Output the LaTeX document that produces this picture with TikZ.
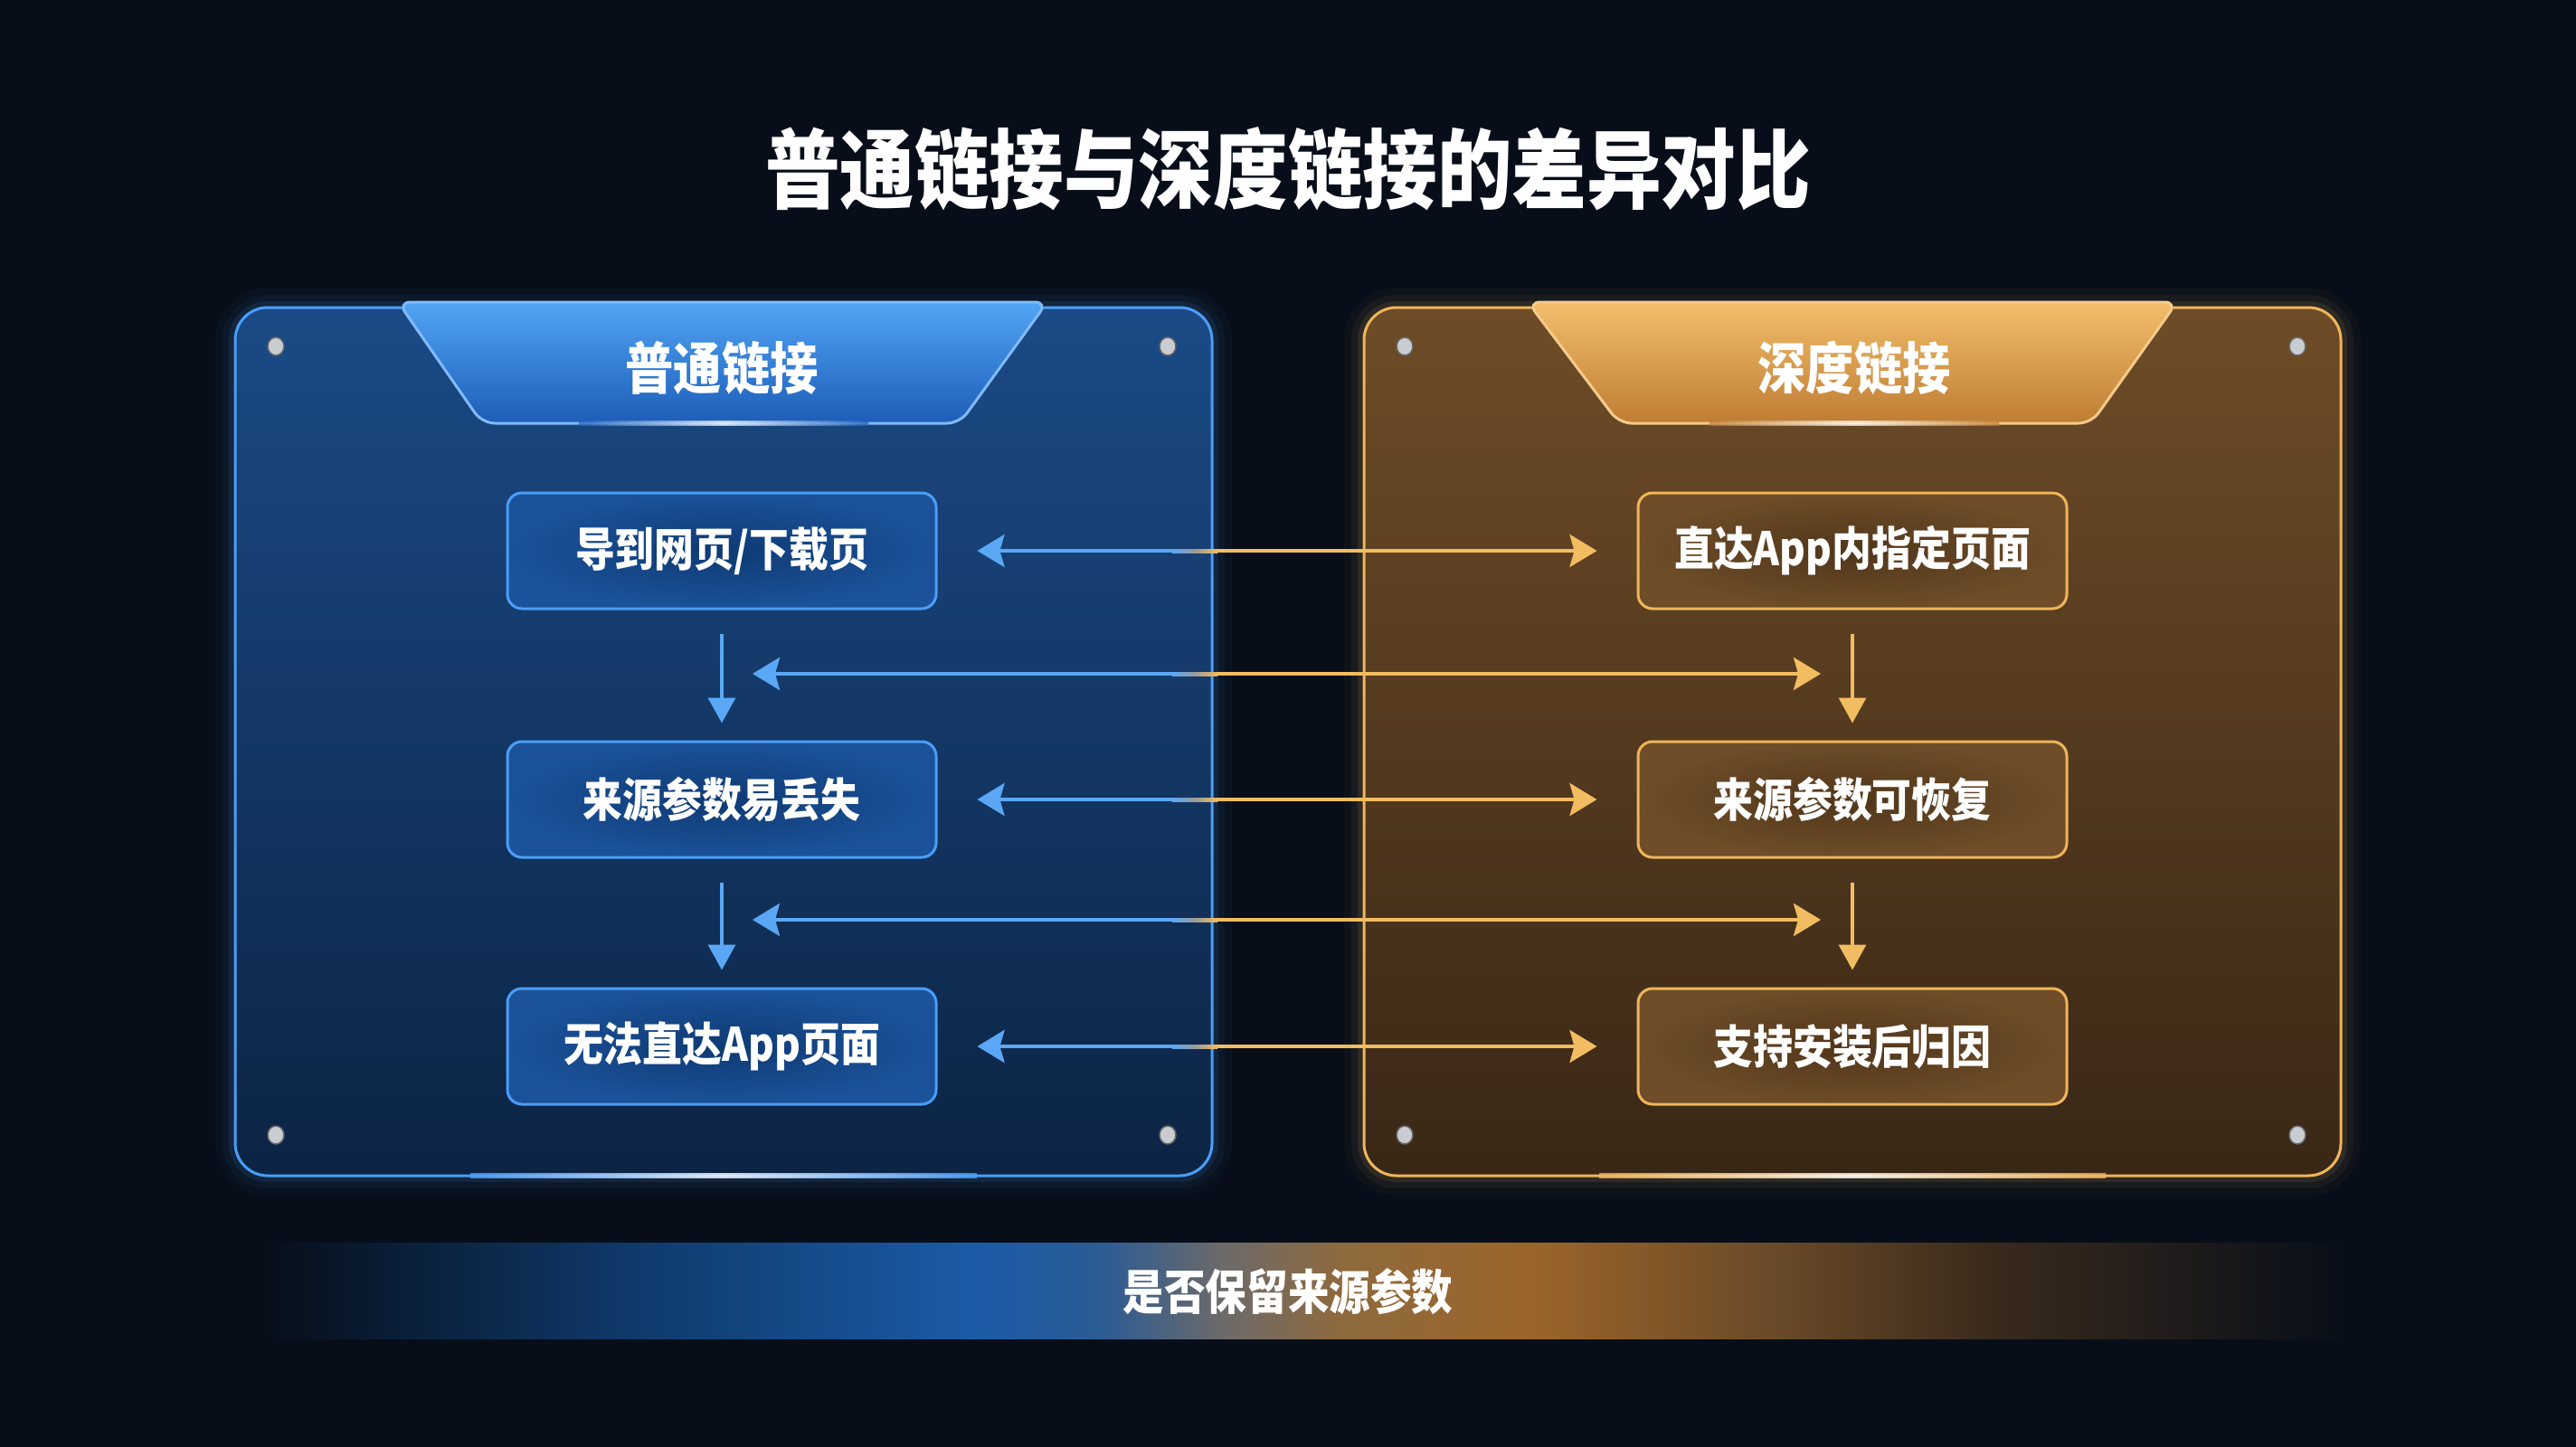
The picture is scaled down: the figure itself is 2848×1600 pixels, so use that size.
\documentclass[tikz,border=0pt]{standalone}
\usepackage{fontspec}
\setmainfont{Noto Sans CJK SC}[FakeStretch=0.86]
\usetikzlibrary{arrows.meta,calc}
\definecolor{bg}{HTML}{070E19}
\definecolor{pblueT}{HTML}{1B4A86}
\definecolor{pblueB}{HTML}{0C2444}
\definecolor{bline}{HTML}{4A9EF8}
\definecolor{porT}{HTML}{6E4C27}
\definecolor{porB}{HTML}{392716}
\definecolor{oline}{HTML}{F0B55A}
\definecolor{tabBT}{HTML}{52A4F5}
\definecolor{tabBB}{HTML}{1C5DB8}
\definecolor{tabOT}{HTML}{F3BD6C}
\definecolor{tabOB}{HTML}{BF7D33}
\definecolor{arrB}{HTML}{5AA8F5}
\definecolor{arrO}{HTML}{F2BC60}
\definecolor{arrG}{HTML}{9A9A9A}
\definecolor{boxBfill}{HTML}{0F3A74}
\definecolor{boxBedge}{HTML}{1B5299}
\definecolor{boxOfill}{HTML}{50361A}
\definecolor{boxOedge}{HTML}{6E4D28}
\definecolor{screwc}{HTML}{C9CCD0}
\definecolor{band1}{HTML}{0F3A6C}
\definecolor{band2}{HTML}{1B5BA6}
\definecolor{band3}{HTML}{2C5C94}
\definecolor{band4}{HTML}{6C6A6A}
\definecolor{band5}{HTML}{8E6A3E}
\definecolor{band6}{HTML}{9C6529}
\definecolor{band7}{HTML}{6A4A28}
\definecolor{band8}{HTML}{3A2A1C}
\begin{document}
\begin{tikzpicture}[x=1pt,y=-1pt,
  htip/.tip={Stealth[length=30pt,width=36pt,inset=5pt]},
  vtip/.tip={Triangle[length=28pt,width=30pt]},
  panelB/.style={draw=bline, line width=3pt, rounded corners=36pt, minimum width=1080pt, minimum height=960pt, top color=pblueT, bottom color=pblueB, inner sep=0pt},
  panelO/.style={draw=oline, line width=3pt, rounded corners=36pt, minimum width=1080pt, minimum height=960pt, top color=porT, bottom color=porB, inner sep=0pt},
  boxB/.style={draw=bline, line width=3pt, rounded corners=16pt, minimum width=474pt, minimum height=128pt, inner color=boxBfill, outer color=boxBedge, text=white, font=\fontsize{51}{51}\selectfont\bfseries},
  boxO/.style={draw=oline, line width=3pt, rounded corners=16pt, minimum width=474pt, minimum height=128pt, inner color=boxOfill, outer color=boxOedge, text=white, font=\fontsize{51}{51}\selectfont\bfseries},
  tabtext/.style={text=white, font=\fontsize{62}{62}\selectfont\bfseries},
  titletext/.style={text=white, font=\fontsize{96}{96}\selectfont\bfseries},
  bandtext/.style={text=white, font=\fontsize{53}{53}\selectfont\bfseries},
  lineB/.style={draw=arrB, line width=4pt},
  lineO/.style={draw=arrO, line width=4pt},
  vlineB/.style={draw=arrB, line width=3.5pt},
  vlineO/.style={draw=arrO, line width=3.5pt},
  screw/.style={fill=screwc, draw=black!60, line width=1.5pt}
]
\useasboundingbox (0,0) rectangle (2848,1600);
\fill[bg] (0,0) rectangle (2848,1600);

% glows behind panels
\foreach \w/\o in {44/0.03, 28/0.05, 14/0.10} {
  \draw[bline, line width=\w pt, opacity=\o, rounded corners=36pt] (260,340) rectangle (1340,1300);
  \draw[oline, line width=\w pt, opacity=\o, rounded corners=36pt] (1508,340) rectangle (2588,1300);
}

% panels
\node[panelB] (lp) at (800,820) {};
\node[panelO] (rp) at (2048,820) {};

% bottom edge highlights
\shade[left color=bline, right color=bline, middle color=white, opacity=0.8] (520,1297) rectangle (1080,1302);
\shade[left color=oline, right color=oline, middle color=white, opacity=0.8] (1768,1297) rectangle (2328,1302);

% tabs
\shadedraw[top color=tabBT, bottom color=tabBB, draw=bline!70!white, line width=3pt, rounded corners=14pt]
  (440,334) -- (1158,334) -- (1061,468) -- (533,468) -- cycle;
\shadedraw[top color=tabOT, bottom color=tabOB, draw=oline!70!white, line width=3pt, rounded corners=14pt]
  (1689,334) -- (2407,334) -- (2312,468) -- (1790,468) -- cycle;
\shade[left color=tabBB, right color=tabBB, middle color=white, opacity=0.7] (640,465) rectangle (960,470);
\shade[left color=tabOB, right color=tabOB, middle color=white, opacity=0.7] (1890,465) rectangle (2210,470);
\node[tabtext] (lt) at (798,407) {普通链接};
\node[tabtext] (rt) at (2050,407) {深度链接};

% title
\node[titletext] (title) at (1424,187) {普通链接与深度链接的差异对比};

% screws
\foreach \x/\y in {305/383, 1291/383, 305/1255, 1291/1255, 1553/383, 2540/383, 1553/1255, 2540/1255}
  \filldraw[screw] (\x,\y) ellipse (9pt and 10pt);

% boxes
\node[boxB] (lb1) at (798,609) {导到网页/下载页};
\node[boxB] (lb2) at (798,884) {来源参数易丢失};
\node[boxB] (lb3) at (798,1157) {无法直达App页面};
\node[boxO] (rb1) at (2048,609) {直达App内指定页面};
\node[boxO] (rb2) at (2048,884) {来源参数可恢复};
\node[boxO] (rb3) at (2048,1157) {支持安装后归因};

% vertical arrows
\draw[vlineB, -vtip, shorten <=26pt, shorten >=19pt] (lb1.south) -- (lb2.north);
\draw[vlineB, -vtip, shorten <=26pt, shorten >=19pt] (lb2.south) -- (lb3.north);
\draw[vlineO, -vtip, shorten <=26pt, shorten >=19pt] (rb1.south) -- (rb2.north);
\draw[vlineO, -vtip, shorten <=26pt, shorten >=19pt] (rb2.south) -- (rb3.north);

% split points of the two-coloured connectors
\coordinate (g1a) at (1296,609);  \coordinate (g1b) at (1346,609);
\coordinate (g2a) at (1296,884);  \coordinate (g2b) at (1346,884);
\coordinate (g3a) at (1296,1157); \coordinate (g3b) at (1346,1157);
\coordinate (m1a) at (1296,745);  \coordinate (m1b) at (1346,745);
\coordinate (m2a) at (1296,1017); \coordinate (m2b) at (1346,1017);
\coordinate (m1L) at (832,745);   \coordinate (m1R) at (2013,745);
\coordinate (m2L) at (832,1017);  \coordinate (m2R) at (2013,1017);

% row connectors
\foreach \i in {1,2,3} {
  \draw[lineB, htip-] ([xshift=44pt]lb\i.east) -- (g\i a);
  \shade[left color=arrB, right color=arrO, middle color=arrG] ($(g\i a)+(0,-2)$) rectangle ($(g\i b)+(0,2)$);
  \draw[lineO, -htip] (g\i b) -- ([xshift=-44pt]rb\i.west);
}
% between-row connectors
\foreach \i in {1,2} {
  \draw[lineB, htip-] (m\i L) -- (m\i a);
  \shade[left color=arrB, right color=arrO, middle color=arrG] ($(m\i a)+(0,-2)$) rectangle ($(m\i b)+(0,2)$);
  \draw[lineO, -htip] (m\i b) -- (m\i R);
}

% bottom band
\shade[left color=bg, right color=band1] (290,1374) rectangle (701,1480);
\shade[left color=band1, right color=band2] (700,1374) rectangle (1081,1480);
\shade[left color=band2, right color=band3] (1080,1374) rectangle (1221,1480);
\shade[left color=band3, right color=band4] (1220,1374) rectangle (1351,1480);
\shade[left color=band4, right color=band5] (1350,1374) rectangle (1481,1480);
\shade[left color=band5, right color=band6] (1480,1374) rectangle (1691,1480);
\shade[left color=band6, right color=band7] (1690,1374) rectangle (1961,1480);
\shade[left color=band7, right color=band8] (1960,1374) rectangle (2201,1480);
\shade[left color=band8, right color=bg] (2200,1374) rectangle (2600,1480);
\node[bandtext] (band) at (1424,1428) {是否保留来源参数};
\end{tikzpicture}
\end{document}
